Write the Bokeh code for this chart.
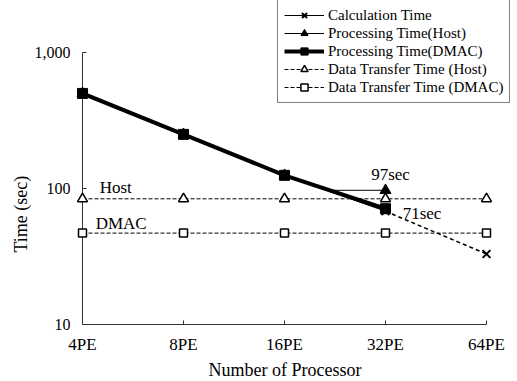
import numpy as np
from bokeh.plotting import figure
from bokeh.models import (Range1d, FixedTicker, NumeralTickFormatter, Legend,
                          LegendItem, ColumnDataSource, Title)
from bokeh.embed import file_html
from bokeh.resources import INLINE
from bokeh.core.properties import value

categories = ["4PE", "8PE", "16PE", "32PE", "64PE"]
calc_time = [500, 250, 125, 68, 33]
proc_host = [500, 250, 125, 97]
proc_dmac = [500, 250, 125, 71]
xfer_host = [84, 84, 84, 84, 84]
xfer_dmac = [47, 47, 47, 47, 47]
y_ticks = [10, 100, 1000]

series_labels = ["Calculation Time", "Processing Time(Host)", "Processing Time(DMAC)",
                 "Data Transfer Time (Host)", "Data Transfer Time (DMAC)"]
x_title = "Number of Processor"
y_title = "Time (sec)"

note_text = ["Host", "DMAC", "97sec", "71sec"]
note_x = [0.17, 0.13, 3.05, 3.17]
note_y = [102, 55, 126, 65]
note_align = ["left", "left", "center", "left"]

FONT = "Liberation Serif"
AX = "#333333"

xi = list(range(len(categories)))

W, H = 517, 381
LEFT, BOTTOM = 82, 57
PX_PER_CAT = 101.0
PX_PER_DEC = 136.0
x_end = (W - LEFT) / PX_PER_CAT
y_end = 10 ** (1 + (H - BOTTOM) / PX_PER_DEC)

p = figure(width=W, height=H, output_backend="svg", toolbar_location=None,
           y_axis_type="log", x_range=Range1d(0, x_end), y_range=Range1d(10, y_end),
           min_border_left=LEFT, min_border_right=0, min_border_top=0,
           min_border_bottom=BOTTOM)
p.outline_line_color = None
p.xgrid.visible = False
p.ygrid.visible = False
p.background_fill_color = "white"
p.border_fill_color = "white"

# axes
p.xaxis.ticker = FixedTicker(ticks=xi)
p.xaxis.major_label_overrides = {i: c for i, c in enumerate(categories)}
p.yaxis.ticker = FixedTicker(ticks=y_ticks, minor_ticks=[])
p.yaxis.formatter = NumeralTickFormatter(format="0,0")
for ax in (p.xaxis, p.yaxis):
    ax.major_tick_in = 4
    ax.major_tick_out = 0
    ax.minor_tick_line_color = None
    ax.axis_line_color = None
    ax.major_tick_line_color = AX
    ax.major_label_text_font = FONT
    ax.major_label_text_color = "black"
p.xaxis.major_label_text_font_size = "17px"
p.yaxis.major_label_text_font_size = "16px"
p.xaxis.major_label_standoff = 10
p.yaxis.major_label_standoff = 12

# axis titles centred on the data span (4PE..64PE, 10..1000)
xt = Title(text=x_title, align="left", offset=126, standoff=2,
           text_font=FONT, text_font_size="18px", text_font_style="normal",
           text_color="black")
p.add_layout(xt, "below")
yt = Title(text=y_title, align="left", offset=72, standoff=2,
           text_font=FONT, text_font_size="18px", text_font_style="normal",
           text_color="black")
p.add_layout(yt, "left")

# visible axis lines spanning only the data extent
p.line([xi[0], xi[-1]], [y_ticks[0], y_ticks[0]], line_color=AX, line_width=1, level="overlay")
p.line([xi[0], xi[0]], [y_ticks[0], y_ticks[-1]], line_color=AX, line_width=1, level="overlay")

# data transfer lines
r_xh_l = p.line(xi, xfer_host, line_color="black", line_width=1, line_dash="4 2")
r_xh_m = p.scatter(xi, xfer_host, marker="triangle", size=10, fill_color="white",
                   line_color="black", line_width=1.5, level="overlay")
r_xd_l = p.line(xi, xfer_dmac, line_color="black", line_width=1, line_dash="4 2")
r_xd_m = p.scatter(xi, xfer_dmac, marker="square", size=8, fill_color="white",
                   line_color="black", line_width=1.5, level="overlay")

# calculation time: solid where overlapping, dashed beyond 32PE
r_c_l = p.line(xi[:4], calc_time[:4], line_color="black", line_width=1)
p.line(xi[3:], calc_time[3:], line_color="black", line_width=1.5, line_dash="4 3")

# processing host: follows until reaching its floor, then flat
x0, x1 = xi[2], xi[3]
yA, yB = np.log10(proc_dmac[2]), np.log10(proc_dmac[3])
xc = x0 + (np.log10(proc_host[3]) - yA) / (yB - yA) * (x1 - x0)
r_ph_l = p.line(xi[:3] + [xc, xi[3]], proc_host[:3] + [proc_host[3], proc_host[3]],
                line_color="black", line_width=1)
r_ph_m = p.scatter(xi[:4], proc_host, marker="triangle", size=11, fill_color="black",
                   line_color="black", level="overlay")

r_pd_l = p.line(xi[:4], proc_dmac, line_color="black", line_width=4)
r_pd_m = p.scatter(xi[:4], proc_dmac, marker="square", size=10, fill_color="black",
                   line_color="black", level="overlay")

r_c_m = p.scatter(xi, calc_time, marker="x", size=11, line_color="black",
                  line_width=2, level="overlay")

# annotations
src = ColumnDataSource(dict(x=note_x, y=note_y, t=note_text, a=note_align))
p.text(x="x", y="y", text="t", text_align="a", source=src, text_baseline="alphabetic",
       text_font=value(FONT), text_font_size="17px", text_color="black", level="overlay")

legend = Legend(items=[
    LegendItem(label=series_labels[0], renderers=[r_c_l, r_c_m]),
    LegendItem(label=series_labels[1], renderers=[r_ph_l, r_ph_m]),
    LegendItem(label=series_labels[2], renderers=[r_pd_l, r_pd_m]),
    LegendItem(label=series_labels[3], renderers=[r_xh_l, r_xh_m]),
    LegendItem(label=series_labels[4], renderers=[r_xd_l, r_xd_m]),
], location=(195, 221))
legend.label_text_font = FONT
legend.label_text_font_size = "15px"
legend.label_text_color = "black"
legend.glyph_width = 40
legend.glyph_height = 18
legend.label_height = 18
legend.label_standoff = 4
legend.spacing = 0
legend.padding = 6
legend.margin = 0
legend.border_line_color = "black"
legend.border_line_width = 1
legend.background_fill_alpha = 1
p.add_layout(legend)

open("out.html", "w").write(file_html(p, INLINE))
